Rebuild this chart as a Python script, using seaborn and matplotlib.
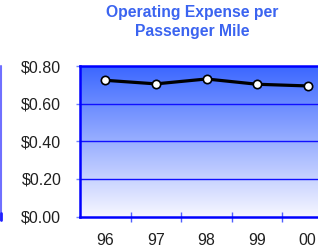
import numpy as np
import pandas as pd
import seaborn as sns
import matplotlib.pyplot as plt
from matplotlib.colors import LinearSegmentedColormap
from matplotlib.lines import Line2D

# data
years = ['96', '97', '98', '99', '00']
cost = [0.724, 0.705, 0.731, 0.703, 0.694]
yticks = [0.0, 0.2, 0.4, 0.6, 0.8]

df = pd.DataFrame({'year': years, 'cost': cost})

sns.set_style('white')
plt.rcParams['font.family'] = ['Liberation Sans', 'DejaVu Sans']

fig = plt.figure(figsize=(3.18, 2.5), dpi=100)
ax = fig.add_axes([80 / 318, 33.5 / 250, 253 / 318, 150.5 / 250])

# gradient background, blue at top fading to white
grad = LinearSegmentedColormap.from_list('bg', ['#f6f6ff', '#3a66ff'])
ax.imshow(np.linspace(0, 1, 256).reshape(-1, 1), cmap=grad, aspect='auto',
          extent=[-0.5, 4.5, 0, 0.8], origin='lower', zorder=0)

for v in yticks[1:-1]:
    ax.axhline(v, color='#1010ff', lw=1, zorder=1)

sns.lineplot(data=df, x='year', y='cost', ax=ax, color='black', lw=2.3,
             marker='o', markersize=6, markerfacecolor='white',
             markeredgecolor='black', markeredgewidth=1.2, zorder=3)

ax.set_xlim(-0.5, 4.5)
ax.set_ylim(0, 0.8)
ax.set_yticks(yticks)
ax.set_yticklabels(['${:.2f}'.format(v) for v in yticks])
ax.set_xticks(range(len(years)))
ax.set_xticklabels(years)
ax.set_xticks([0.5, 1.5, 2.5, 3.5], minor=True)
ax.set_xlabel('')
ax.set_ylabel('')

for s in ax.spines.values():
    s.set_color('#0000ff')
    s.set_linewidth(1.8)

ax.tick_params(axis='y', which='major', left=True, length=3, width=1,
               color='#7080ff', labelsize=11.5, labelcolor='#202020', pad=10.5)
ax.tick_params(axis='x', which='major', bottom=False, length=0, labelsize=11.5,
               labelcolor='#202020', pad=12)
ax.tick_params(axis='x', which='minor', bottom=True, direction='inout',
               length=7, width=1, color='#5060ff')

fig.text(192 / 318, 1 - 22 / 250, 'Operating Expense per\nPassenger Mile',
         ha='center', va='center', color='#3b64f0', fontsize=11.3,
         fontweight='bold', linespacing=1.3)

# sliver of the neighbouring chart at the left edge
fig.add_artist(Line2D([0.8 / 318, 0.8 / 318], [1 - 220 / 250, 1 - 66 / 250],
                      transform=fig.transFigure, color='#7070ff', lw=1.5))
fig.add_artist(Line2D([0.8 / 318, 0.8 / 318], [1 - 220 / 250, 1 - 213 / 250],
                      transform=fig.transFigure, color='#2020ff', lw=2))

fig.savefig('out.png', dpi=100)
